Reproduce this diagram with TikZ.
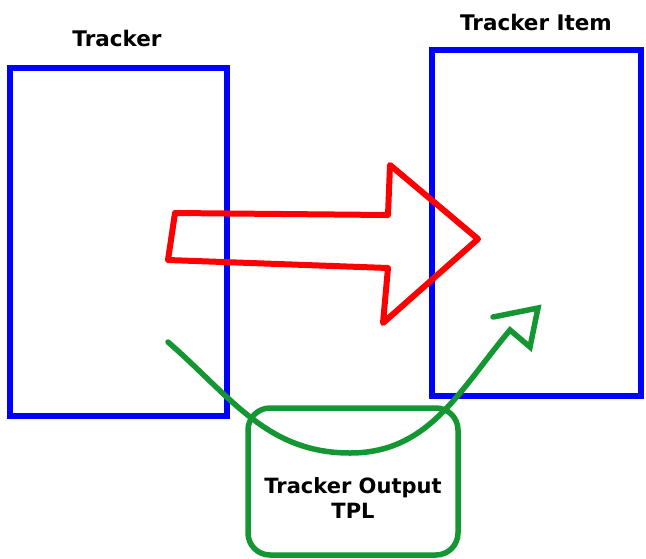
\documentclass[tikz,border=0pt]{standalone}
\usepackage{fontspec}
\setmainfont{DejaVu Sans}
\definecolor{tblue}{RGB}{0,0,255}
\definecolor{tred}{RGB}{255,0,0}
\definecolor{tgreen}{RGB}{20,150,50}
\begin{document}
\begin{tikzpicture}[x=1pt,y=-1pt,
  box/.style={draw=tblue,line width=6pt,minimum width=#1,inner sep=0pt},
  lbl/.style={font=\bfseries\fontsize{21.5}{24}\selectfont,inner sep=0pt},
  bigarrow/.style={draw=tred,line width=6pt,line join=round},
  flow/.style={draw=tgreen,line width=5.5pt,line cap=round,line join=miter}]
\useasboundingbox (0,0) rectangle (646,558);
% boxes
\node[box=217pt,minimum height=348pt] (tracker) at (118.5,242) {};
\node[box=209pt,minimum height=346pt] (item) at (536.5,223) {};
\node[lbl] (trackerlbl) at (117,38) {Tracker};
\node[lbl] (itemlbl) at (536,22) {Tracker Item};
% output box
\node[draw=tgreen,line width=5.5pt,rounded corners=22pt,minimum width=210pt,minimum height=147pt,inner sep=0pt,
  label={[name=outlbl,align=center,inner sep=0pt,yshift=-17pt,font=\bfseries\fontsize{21}{25}\selectfont]center:Tracker Output\\TPL}] (out) at (353,481.5) {};
% red arrow
\draw[bigarrow] (175,213) -- (388,215) -- (390,165) -- (478,239) -- (383,323) -- (388,268) -- (168,260) -- cycle;
% green curve
\coordinate (cs) at (168,342);
\coordinate (cb) at (350,453);
\coordinate (ce) at (510,330);
\draw[flow] (cs) to[out=-41,in=180] (cb) to[out=0,in=-130] (ce) -- (530,347) -- (538,308) -- (493,317);
\end{tikzpicture}
\end{document}
